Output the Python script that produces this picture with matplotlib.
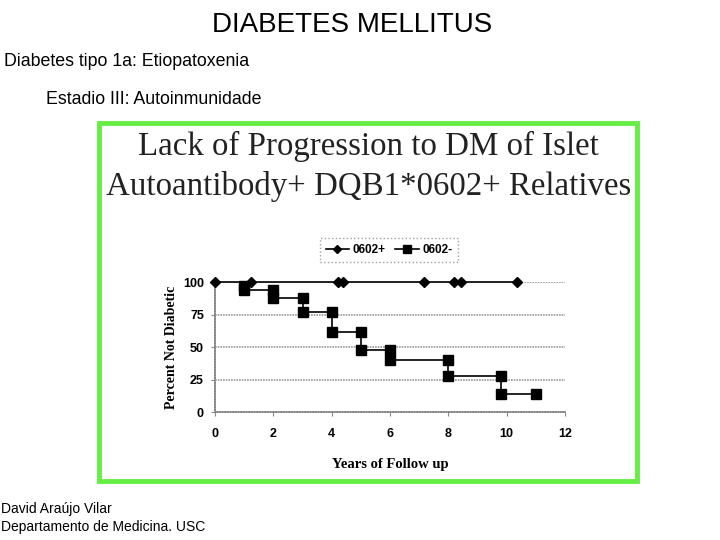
import matplotlib.pyplot as plt
from matplotlib.patches import Rectangle

# data
pos_years = [0, 1.25, 4.2, 4.4, 7.15, 8.2, 8.45, 10.35]
pos_pct = [100, 100, 100, 100, 100, 100, 100, 100]

neg_years = [1, 1, 2, 2, 3, 3, 4, 4, 5, 5, 6, 6, 8, 8, 9.8, 9.8, 11]
neg_pct = [97, 94, 94, 88, 88, 77, 77, 62, 62, 48, 48, 40, 40, 28, 28, 14, 14]

x_ticks = [0, 2, 4, 6, 8, 10, 12]
y_ticks = [0, 25, 50, 75, 100]

fig = plt.figure(figsize=(7.2, 5.4), dpi=100)
fig.patch.set_facecolor('white')

# slide texts
fig.text(352 / 720, 1 - 25 / 540, 'DIABETES MELLITUS', ha='center', va='center',
         fontsize=20, family='Liberation Sans')
fig.text(4 / 720, 1 - 62 / 540, 'Diabetes tipo 1a: Etiopatoxenia', ha='left', va='center',
         fontsize=12.8, family='Liberation Sans')
fig.text(46 / 720, 1 - 100 / 540, 'Estadio III: Autoinmunidade', ha='left', va='center',
         fontsize=12.8, family='Liberation Sans')
fig.text(1 / 720, 1 - 509 / 540, 'David Araújo Vilar', ha='left', va='center',
         fontsize=10, family='Liberation Sans')
fig.text(1 / 720, 1 - 527 / 540, 'Departamento de Medicina. USC', ha='left', va='center',
         fontsize=10, family='Liberation Sans')

# green framed picture
fig.patches.append(Rectangle((99 / 720, 1 - 481 / 540), 538 / 720, 358 / 540,
                             transform=fig.transFigure, facecolor='white',
                             edgecolor='#66ee44', linewidth=3.5, zorder=-1))
fig.text(368 / 720, 1 - 146 / 540, 'Lack of Progression to DM of Islet', ha='center', va='center',
         fontsize=23.7, family='Liberation Serif', color='#222222')
fig.text(369 / 720, 1 - 186 / 540, 'Autoantibody+ DQB1*0602+ Relatives', ha='center', va='center',
         fontsize=23.7, family='Liberation Serif', color='#222222')

ax = fig.add_axes([215 / 720, 1 - 412.3 / 540, 350 / 720, 130 / 540])
ax.set_facecolor('none')
ax.set_xlim(0, 12)
ax.set_ylim(0, 100)

for v in [25, 50, 75, 100]:
    ax.axhline(v, color='#999999', lw=1.2, ls=(0, (1, 0.6)), zorder=1)

ax.plot(pos_years, pos_pct, color='black', lw=1.2, marker='D', ms=5,
        label='0602+', clip_on=False, zorder=3)
ax.plot(neg_years, neg_pct, color='black', lw=1.2, marker='s', ms=7,
        label='0602-', clip_on=False, zorder=3)

for side in ['top', 'right']:
    ax.spines[side].set_visible(False)
for side in ['left', 'bottom']:
    ax.spines[side].set_color('#888888')
    ax.spines[side].set_linestyle((0, (1, 0.6)))
    ax.spines[side].set_linewidth(1.2)

ax.set_xticks(x_ticks)
ax.set_yticks(y_ticks)
ax.tick_params(axis='x', length=3, color='#888888', labelsize=9, pad=8)
ax.tick_params(axis='y', length=3, color='#888888', labelsize=9, pad=5)
for lab in ax.get_xticklabels() + ax.get_yticklabels():
    lab.set_fontweight('bold')
    lab.set_family('Liberation Sans')
ax.set_xlabel('Years of Follow up', fontsize=10.5, fontweight='bold',
              family='Liberation Serif', labelpad=13)
ax.set_ylabel('Percent Not Diabetic', fontsize=10, fontweight='bold',
              family='Liberation Serif')
ax.yaxis.set_label_coords(-0.106, 0.5)

leg = ax.legend(loc='center', bbox_to_anchor=(389 / 720, 1 - 250 / 540),
                bbox_transform=fig.transFigure, ncol=2, frameon=True, fancybox=False,
                handlelength=2, handletextpad=0.3, columnspacing=0.8,
                prop={'family': 'Liberation Sans', 'weight': 'bold', 'size': 8.5},
                borderpad=0.5, markerscale=0.9)
leg.get_frame().set_edgecolor('#888888')
leg.get_frame().set_linestyle(':')
leg.get_frame().set_linewidth(1)

fig.savefig('out.png', dpi=100, facecolor='white')
